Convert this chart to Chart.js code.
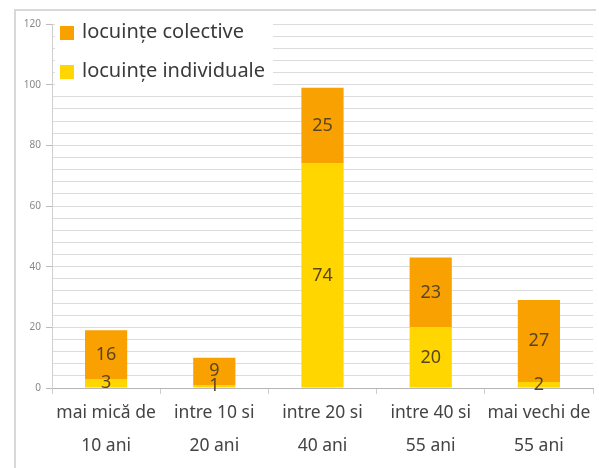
<!DOCTYPE html>
<html>
<head>
<meta charset="utf-8">
<script src="https://cdn.jsdelivr.net/npm/chart.js@4.4.0/dist/chart.umd.min.js"></script>
<style>
  html, body { margin: 0; padding: 0; background: #fff; }
  #wrap { width: 599px; height: 468px; position: relative; }
</style>
</head>
<body>
<div id="wrap"><canvas id="chart" width="599" height="468"></canvas></div>
<script>
// data
const categories = [
    ['mai mică de', '10 ani'],
    ['intre 10 si', '20 ani'],
    ['intre 20 si', '40 ani'],
    ['intre 40 si', '55 ani'],
    ['mai vechi de', '55 ani']
];
const individuale = [3, 1, 74, 20, 2];
const colective = [16, 9, 25, 23, 27];
const seriesNames = ['locuințe colective', 'locuințe individuale'];
const yTicks = [0, 20, 40, 60, 80, 100, 120];

const ORANGE = '#f9a100';
const YELLOW = '#ffd600';

//value labels drawn in the middle of each segment
const valueLabels = {
    id: 'valueLabels',
    afterDatasetsDraw(chart) {
        const ctx = chart.ctx;
        ctx.save();
        ctx.font = '18px "Noto Sans", sans-serif';
        ctx.fillStyle = '#5a4522';
        ctx.textAlign = 'center';
        ctx.textBaseline = 'middle';
        chart.data.datasets.forEach((ds, i) => {
            const meta = chart.getDatasetMeta(i);
            meta.data.forEach((bar, j) => {
                const y = (bar.y + bar.base) / 2;
                ctx.fillText(String(ds.data[j]), bar.x, y);
            });
        });
        ctx.restore();
    }
};

//legend sits inside the plot, on a white box
const innerLegend = {
    id: 'innerLegend',
    afterDraw(chart) {
        const ctx = chart.ctx;
        ctx.save();
        ctx.fillStyle = '#fff';
        ctx.fillRect(55, 14, 218, 76);
        const items = [
            { text: seriesNames[0], color: ORANGE, y: 32 },
            { text: seriesNames[1], color: YELLOW, y: 71 }
        ];
        ctx.font = '20px "Noto Sans", sans-serif';
        ctx.textBaseline = 'middle';
        items.forEach(it => {
            ctx.fillStyle = it.color;
            ctx.fillRect(60, it.y - 6, 14, 14);
            ctx.fillStyle = '#3a3a3a';
            ctx.fillText(it.text, 82, it.y);
        });
        ctx.restore();
    }
};

// outer frame lines (top and left)
const frame = {
    id: 'frame',
    beforeDraw(chart) {
        const ctx = chart.ctx;
        ctx.save();
        ctx.strokeStyle = '#d8d8d8';
        ctx.lineWidth = 2;
        ctx.beginPath();
        ctx.moveTo(15, 468);
        ctx.lineTo(15, 10);
        ctx.lineTo(596, 10);
        ctx.stroke();
        ctx.restore();
    }
};

new Chart(document.getElementById('chart'), {
    type: 'bar',
    data: {
        labels: categories,
        datasets: [{
            label: seriesNames[1],
            data: individuale,
            backgroundColor: YELLOW,
            stack: 's'
        }, {
            label: seriesNames[0],
            data: colective,
            backgroundColor: ORANGE,
            stack: 's'
        }]
    },
    options: {
        responsive: false,
        animation: false,
        layout: { padding: { top: 24, right: 6, left: 0, bottom: 0 } },
        datasets: { bar: { barPercentage: 0.39, categoryPercentage: 1 } },
        plugins: { legend: { display: false }, tooltip: { enabled: false } },
        scales: {
            x: {
                stacked: true,
                afterFit: s => { s.height = 80; },
                grid: { offset: true, drawOnChartArea: false, tickLength: 6, tickColor: '#ccc' },
                border: { color: '#b5b5b5' },
                ticks: {
                    padding: 2,
                    color: '#444',
                    font: { family: '"Noto Sans", sans-serif', size: 17.5, lineHeight: 1.9 },
                    maxRotation: 0
                }
            },
            y: {
                stacked: true,
                min: yTicks[0],
                max: yTicks[yTicks.length - 1],
                afterFit: s => { s.width = 52; },
                grid: {
                    color: c => (c.tick && c.tick.value === 0) ? 'transparent' : '#dcdcdc',
                    tickColor: c => (c.tick && yTicks.includes(c.tick.value)) ? '#bbb' : 'transparent',
                    tickLength: 6
                },
                border: { color: '#d0d0d0' },
                ticks: {
                    stepSize: 4,
                    autoSkip: false,
                    padding: 5,
                    color: '#888',
                    font: { family: '"Noto Sans", sans-serif', size: 10 },
                    callback: v => yTicks.includes(v) ? v : ''
                }
            }
        }
    },
    plugins: [frame, valueLabels, innerLegend]
});
</script>
</body>
</html>
